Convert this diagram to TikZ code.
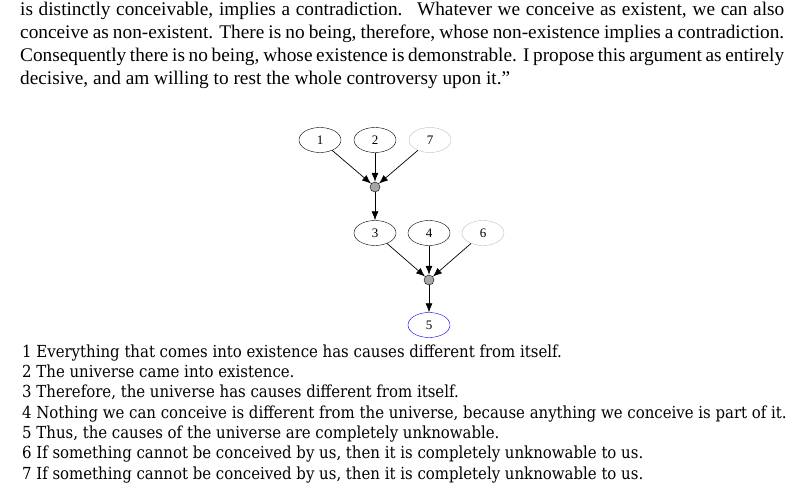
\documentclass[tikz,border=0pt]{standalone}
\usepackage{fontspec}
\setmainfont{Liberation Serif}
\newfontfamily\listfont{DejaVu Serif Condensed}
\usetikzlibrary{arrows.meta,shapes.geometric}
\begin{document}
\begin{tikzpicture}[x=1pt,y=-1pt,
  stmt/.style={draw, ellipse, minimum width=42pt, minimum height=25pt, inner sep=0pt, font=\fontsize{13}{15}\selectfont},
  faded/.style={stmt, draw=black!25},
  concl/.style={stmt, draw=blue},
  junc/.style={circle, draw, fill=black!35, minimum size=10pt, inner sep=0pt},
  link/.style={-{Latex[length=9pt,width=7pt]}, line width=0.7pt},
  para/.style={anchor=base west, inner sep=0pt, font=\fontsize{19.3}{23}\selectfont},
  item/.style={anchor=base west, inner sep=0pt, font=\listfont\fontsize{16.6}{20}\selectfont}]
\useasboundingbox (0,0) rectangle (804,489);
% top paragraph
\node[para] (p1) at (20,16) {\makebox[764pt][s]{is distinctly conceivable, implies a contradiction. \ Whatever we conceive as existent, we can also}};
\node[para] (p2) at (20,39) {\makebox[764pt][s]{conceive as non-existent. There is no being, therefore, whose non-existence implies a contradiction.}};
\node[para] (p3) at (20,62) {\makebox[764pt][s]{Consequently there is no being, whose existence is demonstrable. I propose this argument as entirely}};
\node[para] (p4) at (20,85) {decisive, and am willing to rest the whole controversy upon it.''};
% graph
\node[stmt] (n1) at (320,140) {1};
\node[stmt] (n2) at (375,140) {2};
\node[faded] (n7) at (430,140) {7};
\node[junc] (j1) at (375,187) {};
\node[stmt] (n3) at (375,233) {3};
\node[stmt] (n4) at (429,233) {4};
\node[faded] (n6) at (483,233) {6};
\node[junc] (j2) at (429,280) {};
\node[concl] (n5) at (429,325) {5};
\draw[link] (n1) -- (j1);
\draw[link] (n2) -- (j1);
\draw[link] (n7) -- (j1);
\draw[link] (j1) -- (n3);
\draw[link] (n3) -- (j2);
\draw[link] (n4) -- (j2);
\draw[link] (n6) -- (j2);
\draw[link] (j2) -- (n5);
% list
\node[item] (l1) at (22,357) {1 Everything that comes into existence has causes different from itself.};
\node[item] (l2) at (22,377.3) {2 The universe came into existence.};
\node[item] (l3) at (22,397.6) {3 Therefore, the universe has causes different from itself.};
\node[item] (l4) at (22,418) {4 Nothing we can conceive is different from the universe, because anything we conceive is part of it.};
\node[item] (l5) at (22,438.3) {5 Thus, the causes of the universe are completely unknowable.};
\node[item] (l6) at (22,458.6) {6 If something cannot be conceived by us, then it is completely unknowable to us.};
\node[item] (l7) at (22,479) {7 If something cannot be conceived by us, then it is completely unknowable to us.};
\end{tikzpicture}
\end{document}
